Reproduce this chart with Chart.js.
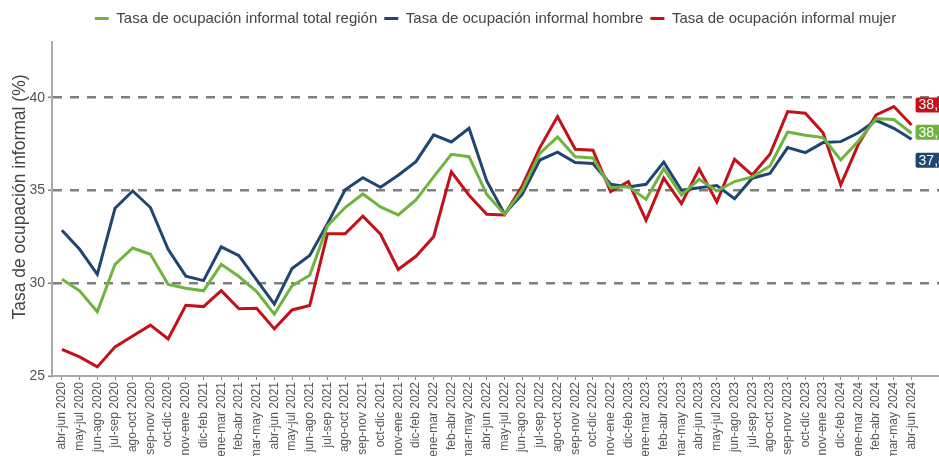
<!DOCTYPE html>
<html>
<head>
<meta charset="utf-8">
<script src="https://cdn.jsdelivr.net/npm/chart.js@4"></script>
<style>
    body { margin: 0; background: #fff; }
    #wrap { width: 939px; height: 456px; position: relative; }
</style>
</head>
<body>
<div id="wrap"><canvas id="chart"></canvas></div>
<script>
// periods (rolling quarters)
const periods = [
    'abr-jun 2020', 'may-jul 2020', 'jun-ago 2020', 'jul-sep 2020', 'ago-oct 2020', 'sep-nov 2020',
    'oct-dic 2020', 'nov-ene 2020', 'dic-feb 2021', 'ene-mar 2021', 'feb-abr 2021', 'mar-may 2021',
    'abr-jun 2021', 'may-jul 2021', 'jun-ago 2021', 'jul-sep 2021', 'ago-oct 2021', 'sep-nov 2021',
    'oct-dic 2021', 'nov-ene 2021', 'dic-feb 2022', 'ene-mar 2022', 'feb-abr 2022', 'mar-may 2022',
    'abr-jun 2022', 'may-jul 2022', 'jun-ago 2022', 'jul-sep 2022', 'ago-oct 2022', 'sep-nov 2022',
    'oct-dic 2022', 'nov-ene 2022', 'dic-feb 2023', 'ene-mar 2023', 'feb-abr 2023', 'mar-may 2023',
    'abr-jun 2023', 'may-jul 2023', 'jun-ago 2023', 'jul-sep 2023', 'ago-oct 2023', 'sep-nov 2023',
    'oct-dic 2023', 'nov-ene 2023', 'dic-feb 2024', 'ene-mar 2024', 'feb-abr 2024', 'mar-may 2024',
    'abr-jun 2024'
];

const totalRegion = [
    30.22, 29.59, 28.46, 31.02, 31.90, 31.56, 29.93, 29.73, 29.59, 31.02, 30.36, 29.55,
    28.33, 29.86, 30.43, 33.09, 34.08, 34.81, 34.11, 33.68, 34.49, 35.73, 36.95, 36.82,
    34.79, 33.72, 35.01, 37.00, 37.88, 36.82, 36.75, 35.15, 35.21, 34.52, 36.18, 34.76,
    35.60, 34.97, 35.48, 35.73, 36.32, 38.15, 37.97, 37.85, 36.64, 37.67, 38.87, 38.82,
    38.08
];

const hombre = [
    32.85, 31.83, 30.48, 34.04, 34.97, 34.08, 31.83, 30.38, 30.14, 31.96, 31.49, 30.18,
    28.87, 30.79, 31.49, 33.21, 35.04, 35.69, 35.17, 35.82, 36.55, 37.99, 37.61, 38.35,
    35.51, 33.75, 34.79, 36.64, 37.06, 36.50, 36.45, 35.33, 35.19, 35.33, 36.53, 35.01,
    35.15, 35.26, 34.56, 35.66, 35.91, 37.31, 37.04, 37.58, 37.63, 38.11, 38.78, 38.35,
    37.76
];

const mujer = [
    26.43, 26.03, 25.49, 26.57, 27.16, 27.74, 27.00, 28.81, 28.74, 29.60, 28.62, 28.65,
    27.54, 28.56, 28.80, 32.66, 32.66, 33.61, 32.64, 30.74, 31.45, 32.51, 36.00, 34.74,
    33.72, 33.68, 35.24, 37.31, 38.98, 37.22, 37.17, 34.94, 35.48, 33.39, 35.66, 34.29,
    36.16, 34.38, 36.68, 35.83, 36.95, 39.25, 39.16, 38.11, 35.30, 37.49, 39.07, 39.52,
    38.53
];

const yTicks = [25, 30, 35, 40];
const yTitle = 'Tasa de ocupación informal (%)';

const green = '#6fb43f';
const blue = '#1f4670';
const red = '#c4101a';
const FONT = '"Liberation Sans", Arial, sans-serif';

// end-of-series value tags, nudged apart so they don't overlap
const endTags = [
    { dataset: 2, shift: -20 },
    { dataset: 0, shift: -1 },
    { dataset: 1, shift: 21 }
];

function toPoints(values) {
    return values.map((v, i) => ({ x: i, y: v }));
}

const extrasPlugin = {
    id: 'extras',
    beforeLayout(chart) {
        // leave a bit more room under the legend
        const legend = chart.legend;
        if (legend && !legend._padded) {
            const fit = legend.fit.bind(legend);
            legend.fit = function () {
                fit();
                this.height += 6;
                this.bottom = this.top + this.height;
            };
            legend._padded = true;
        }
    },
    afterDraw(chart) {
        // y axis title, sitting a little above the middle like the original
        const ctx = chart.ctx;
        ctx.save();
        ctx.font = '17.5px ' + FONT;
        ctx.fillStyle = '#444';
        ctx.textAlign = 'center';
        ctx.textBaseline = 'middle';
        ctx.translate(20, chart.chartArea.top + (chart.chartArea.bottom - chart.chartArea.top) / 2 - 12);
        ctx.rotate(-Math.PI / 2);
        ctx.fillText(yTitle, 0, 0);
        ctx.restore();
    },
    afterDatasetsDraw(chart) {
        const ctx = chart.ctx;
        ctx.save();
        ctx.font = '14px ' + FONT;
        ctx.textBaseline = 'middle';
        endTags.forEach(tag => {
            const ds = chart.data.datasets[tag.dataset];
            const last = ds.data[ds.data.length - 1];
            const px = chart.scales.x.getPixelForValue(last.x) + 4;
            const py = chart.scales.y.getPixelForValue(last.y) + tag.shift;
            const text = last.y.toFixed(1).replace('.', ',');
            const w = ctx.measureText(text).width + 8;
            ctx.fillStyle = ds.borderColor;
            ctx.beginPath();
            ctx.roundRect(px, py - 7.5, w, 15, 2);
            ctx.fill();
            ctx.fillStyle = '#fff';
            ctx.fillText(text, px + 3, py + 0.5);
        });
        ctx.restore();
    }
};

const ctx = document.getElementById('chart').getContext('2d');
new Chart(ctx, {
    type: 'line',
    data: {
        datasets: [
            {
                label: 'Tasa de ocupación informal total región',
                data: toPoints(totalRegion),
                borderColor: green,
                backgroundColor: green,
                borderWidth: 3,
                pointRadius: 0,
                tension: 0
            },
            {
                label: 'Tasa de ocupación informal hombre',
                data: toPoints(hombre),
                borderColor: blue,
                backgroundColor: blue,
                borderWidth: 3,
                pointRadius: 0,
                tension: 0
            },
            {
                label: 'Tasa de ocupación informal mujer',
                data: toPoints(mujer),
                borderColor: red,
                backgroundColor: red,
                borderWidth: 3,
                pointRadius: 0,
                tension: 0
            }
        ]
    },
    options: {
        responsive: true,
        maintainAspectRatio: false,
        animation: false,
        layout: { padding: { top: 4, right: 0, bottom: 0, left: 0 } },
        plugins: {
            legend: {
                position: 'top',
                fullSize: false,
                labels: {
                    usePointStyle: true,
                    pointStyle: 'line',
                    pointStyleWidth: 14,
                    boxHeight: 15,
                    color: '#444',
                    padding: 7,
                    font: { size: 15, family: FONT }
                }
            },
            tooltip: { enabled: false }
        },
        scales: {
            x: {
                type: 'linear',
                min: -0.56,
                max: 49.55,
                afterBuildTicks(axis) {
                    axis.ticks = periods.map((p, i) => ({ value: i }));
                },
                afterFit(axis) {
                    axis.height = 80;
                },
                ticks: {
                    autoSkip: false,
                    maxRotation: 90,
                    minRotation: 90,
                    padding: 2,
                    color: '#555',
                    font: { size: 12, family: FONT },
                    callback: (value) => periods[value]
                },
                grid: {
                    drawOnChartArea: false,
                    drawTicks: true,
                    tickLength: 4,
                    tickColor: '#888'
                },
                border: { display: true, color: '#aaa', width: 2 }
            },
            y: {
                min: 25,
                max: 43,
                afterBuildTicks(axis) {
                    axis.ticks = yTicks.map(v => ({ value: v }));
                },
                afterFit(axis) {
                    axis.width = 52;
                },
                ticks: {
                    color: '#555',
                    padding: 3,
                    font: { size: 14, family: FONT }
                },
                grid: {
                    color: (c) => c.tick && c.tick.value === 25 ? 'rgba(0,0,0,0)' : '#7f7f7f',
                    lineWidth: 2.5,
                    drawTicks: true,
                    tickLength: 4,
                    tickColor: '#888',
                    tickBorderDash: [],
                    tickWidth: 1.5
                },
                border: { display: true, color: '#aaa', width: 2, dash: [9, 8] }
            }
        }
    },
    plugins: [extrasPlugin]
});
</script>
</body>
</html>
